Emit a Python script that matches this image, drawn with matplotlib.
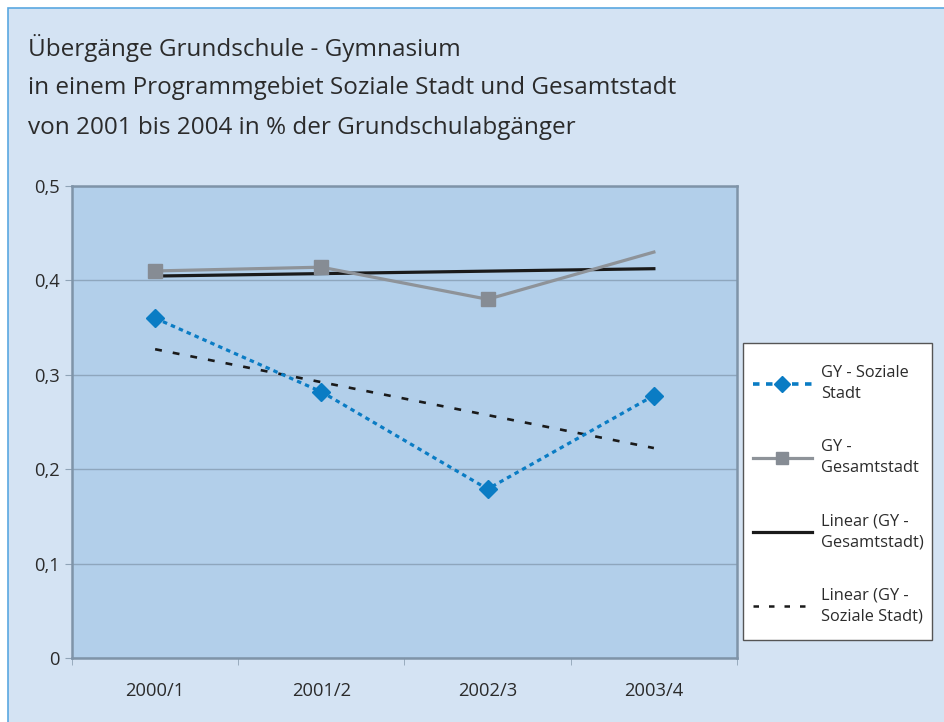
import numpy as np
import matplotlib
matplotlib.use("Agg")
import matplotlib.pyplot as plt
from matplotlib.patches import Rectangle
from matplotlib.lines import Line2D

plt.rcParams['font.family'] = ['Open Sans', 'DejaVu Sans']

categories = ["2000/1", "2001/2", "2002/3", "2003/4"]
soziale_stadt = [0.36, 0.282, 0.179, 0.278]
gesamtstadt = [0.41, 0.414, 0.38, 0.43]
y_ticks = [0, 0.1, 0.2, 0.3, 0.4, 0.5]
y_tick_labels = ["0", "0,1", "0,2", "0,3", "0,4", "0,5"]
title_lines = ["Übergänge Grundschule - Gymnasium",
               "in einem Programmgebiet Soziale Stadt und Gesamtstadt",
               "von 2001 bis 2004 in % der Grundschulabgänger"]
legend_labels = ["GY - Soziale\nStadt", "GY -\nGesamtstadt",
                 "Linear (GY -\nGesamtstadt)", "Linear (GY -\nSoziale Stadt)"]

W, H = 945, 722
fig = plt.figure(figsize=(W / 100, H / 100), dpi=100, facecolor="white")

def fx(px):
    return px / W

def fy(py):
    return 1 - py / H

# outer panel
fig.patches.append(Rectangle((fx(8), -0.05), 1.1, fy(8) + 0.05, transform=fig.transFigure,
                             facecolor="#d4e3f3", edgecolor="#5aa8e0", linewidth=1.2, zorder=-10))

title_color = "#2b2b2b"
for i, t in enumerate(title_lines):
    fig.text(fx(28), fy(48 + i * 40), t, fontsize=17.5, color=title_color, va="center", ha="left")

ax = fig.add_axes([fx(72), fy(658), fx(737) - fx(72), fy(186) - fy(658)])
ax.set_zorder(1)
ax.set_facecolor("#b2cfea")
x = np.arange(len(categories))

# trend lines from linear fit
cs = np.polyfit(x, soziale_stadt, 1)
cg = np.polyfit(x, gesamtstadt, 1)

ax.plot(x, np.polyval(cg, x), color="#1a1a1a", lw=2.3, zorder=3)
ax.plot(x, np.polyval(cs, x), color="#1a1a1a", lw=1.9, dashes=(2.6, 4.2), zorder=3)
ax.plot(x, gesamtstadt, color="#8e9399", lw=2.3, marker="s", markersize=10,
        markerfacecolor="#868c94", markeredgecolor="#868c94", markevery=[0, 1, 2], zorder=4)
ax.plot(x, soziale_stadt, color="#0a7cc4", lw=2.3, dashes=(1.4, 1.3), marker="D", markersize=9.5,
        markerfacecolor="#0a7cc4", markeredgecolor="#0a7cc4", zorder=5)

ax.set_xlim(-0.5, len(categories) - 0.5)
ax.set_ylim(0, 0.5)
ax.set_yticks(y_ticks)
ax.set_yticklabels(y_tick_labels)
ax.set_xticks(x)
ax.set_xticklabels(categories)
ax.set_xticks(np.arange(-0.5, len(categories)), minor=True)
ax.tick_params(axis="x", which="major", length=0, pad=17, labelsize=13.2, labelcolor="#2b2b2b")
ax.tick_params(axis="x", which="minor", length=5, color="#8fa3b6", direction="out")
ax.tick_params(axis="y", length=5, color="#8fa3b6", direction="out", pad=4, labelsize=13.2,
               labelcolor="#2b2b2b")
ax.grid(axis="y", color="#8ea6bd", lw=1.0)
ax.set_axisbelow(True)
for s in ["left", "top", "right", "bottom"]:
    ax.spines[s].set_color("#7f94a8")
    ax.spines[s].set_linewidth(1.8)

# legend box
fig.patches.append(Rectangle((fx(743), fy(640)), fx(932) - fx(743), fy(343) - fy(640),
                             transform=fig.transFigure, facecolor="white", edgecolor="#555555",
                             linewidth=1.0, zorder=1))
handles = [
    Line2D([], [], color="#0a7cc4", lw=2.6, dashes=(1.8, 1.8), marker="D", markersize=8,
           markerfacecolor="#0a7cc4", markeredgecolor="#0a7cc4"),
    Line2D([], [], color="#8e9399", lw=2.3, marker="s", markersize=8,
           markerfacecolor="#868c94", markeredgecolor="#868c94"),
    Line2D([], [], color="#1a1a1a", lw=2.3),
    Line2D([], [], color="#1a1a1a", lw=1.8, dashes=(2.2, 4.0)),
]
leg = fig.legend(handles, legend_labels, loc="upper left", bbox_to_anchor=(fx(746), fy(358)),
                 frameon=False, fontsize=11.8, handlelength=3.6, handletextpad=0.6,
                 labelspacing=2.25, borderaxespad=0, labelcolor="#2b2b2b")
for t in leg.get_texts():
    t.set_linespacing(1.45)
leg.set_zorder(2)

fig.savefig("out.png", dpi=100, facecolor="white")
